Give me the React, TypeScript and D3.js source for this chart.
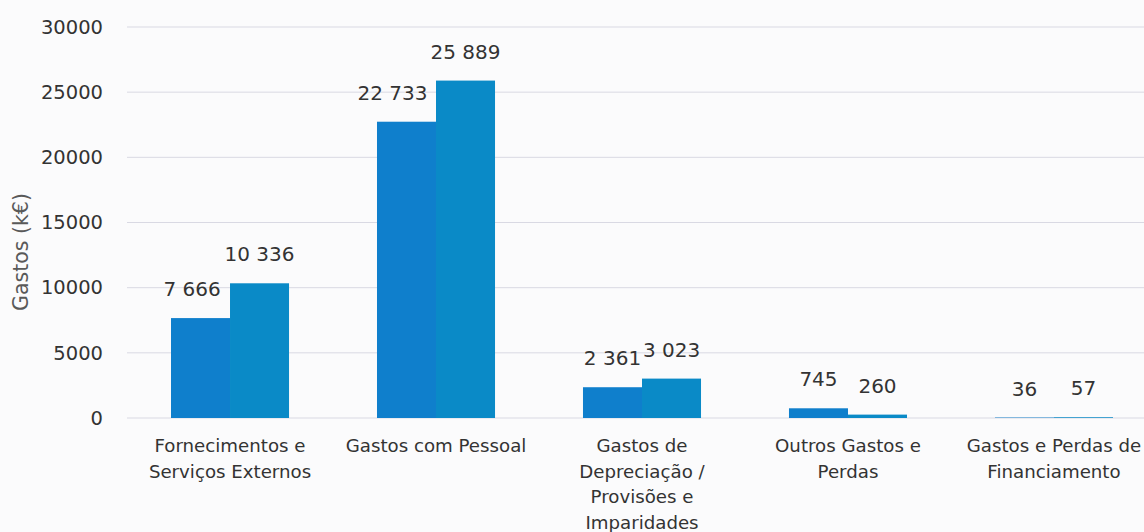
import React from "react";
import * as d3 from "d3";

const categories: string[][] = [
  ["Fornecimentos e", "Serviços Externos"],
  ["Gastos com Pessoal"],
  ["Gastos de", "Depreciação /", "Provisões e", "Imparidades"],
  ["Outros Gastos e", "Perdas"],
  ["Gastos e Perdas de", "Financiamento"],
];
const seriesA: number[] = [7666, 22733, 2361, 745, 36];
const seriesB: number[] = [10336, 25889, 3023, 260, 57];
const yTicks: number[] = [0, 5000, 10000, 15000, 20000, 25000, 30000];
const yTitle = "Gastos (k€)";

const W = 1144;
const H = 532;
const FONT = "'DejaVu Sans', Verdana, sans-serif";
const colorA = "#0f7fcc";
const colorB = "#0a8ac7";

function fmt(v: number): string {
  return d3.format(",")(v).replace(/,/g, " ");
}

export default function App() {
  const x0 = d3
    .scaleBand<number>()
    .domain(categories.map((_, i) => i))
    .range([127, 1157])
    .paddingInner(0.427)
    .paddingOuter(0.2136);
  const x1 = d3
    .scaleBand<number>()
    .domain([0, 1])
    .range([0, x0.bandwidth()]);
  const y = d3.scaleLinear().domain([0, 30000]).range([418, 27]);

  const labelW = (s: string) => s.length * 11.2;

  return (
    <div style={{ position: "fixed", left: 0, top: 0, width: W, height: H, background: "#fbfbfc" }}>
      <svg width={W} height={H} style={{ display: "block" }}>
        {yTicks.map((t) => (
          <g key={t}>
            <line x1={127} x2={W} y1={y(t)} y2={y(t)} stroke="#d9d9e3" strokeWidth={1} />
            <text
              x={103}
              y={y(t)}
              dy="0.35em"
              textAnchor="end"
              fontFamily={FONT}
              fontSize={19.5}
              fill="#333"
            >
              {t}
            </text>
          </g>
        ))}
        <text
          transform={`translate(28,252) rotate(-90)`}
          textAnchor="middle"
          fontFamily={FONT}
          fontSize={20.5}
          fill="#595959"
        >
          {yTitle}
        </text>
        {categories.map((c, i) => {
          const gx = x0(i)!;
          const vals = [seriesA[i], seriesB[i]];
          return (
            <g key={i}>
              {vals.map((v, j) => (
                <rect
                  key={j}
                  x={gx + x1(j)!}
                  y={y(v)}
                  width={x1.bandwidth()}
                  height={y(0) - y(v)}
                  fill={j === 0 ? colorA : colorB}
                />
              ))}
              {vals.map((v, j) => {
                let cx = gx + x1(j)! + x1.bandwidth() / 2;
                const s = fmt(v);
                const ly = y(v) - 22;
                if (j === 0 && vals[1] > vals[0]) {
                  const right = cx + labelW(s) / 2;
                  const b2left = gx + x1(1)!;
                  if (ly > y(vals[1]) && right > b2left - 10) {
                    cx -= right - (b2left - 10);
                  }
                }
                return (
                  <text
                    key={"l" + j}
                    x={cx}
                    y={ly}
                    textAnchor="middle"
                    fontFamily={FONT}
                    fontSize={20}
                    fill="#333"
                  >
                    {s}
                  </text>
                );
              })}
              {c.map((line, k) => (
                <text
                  key={"c" + k}
                  x={gx + x0.bandwidth() / 2}
                  y={452 + k * 25.5}
                  textAnchor="middle"
                  fontFamily={FONT}
                  fontSize={18.2}
                  fill="#333"
                >
                  {line}
                </text>
              ))}
            </g>
          );
        })}
      </svg>
    </div>
  );
}
